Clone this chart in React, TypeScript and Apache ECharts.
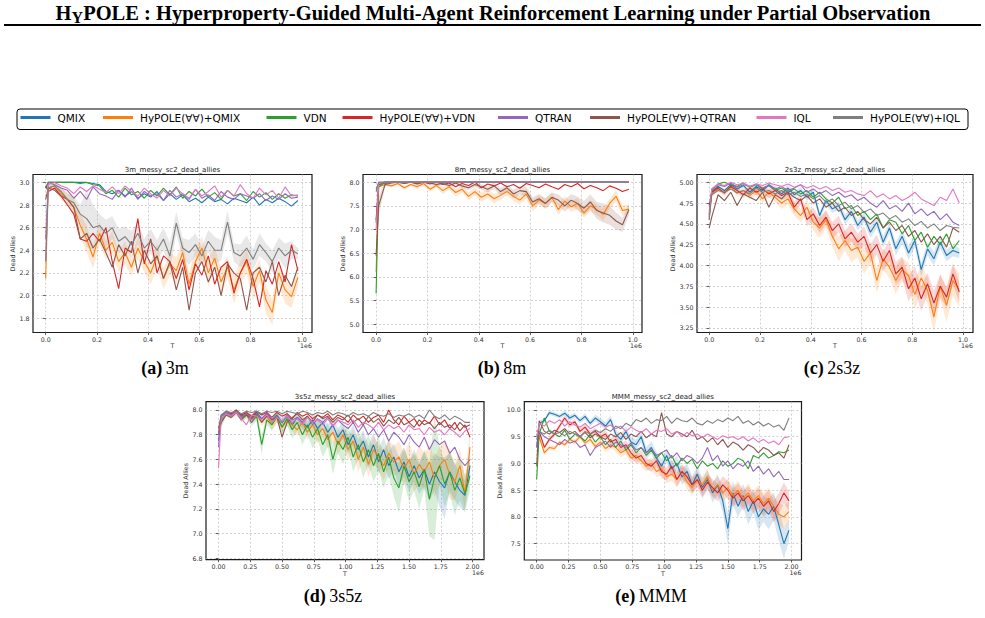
import React, { useEffect, useRef } from "react";
import * as echarts from "echarts";

const FONT = "DejaVu Sans";
const SERIF = "Liberation Serif";

const METHODS = [
  "QMIX",
  "HyPOLE(∀∀)+QMIX",
  "VDN",
  "HyPOLE(∀∀)+VDN",
  "QTRAN",
  "HyPOLE(∀∀)+QTRAN",
  "IQL",
  "HyPOLE(∀∀)+IQL",
];
const COLORS = ["#1f77b4", "#ff7f0e", "#2ca02c", "#d62728", "#9467bd", "#8c564b", "#e377c2", "#7f7f7f"];
const LEGEND_X = [20.5, 103, 266.5, 342.5, 498, 590, 756.5, 833];

// logged environment steps, in units of 1e6
const T_1M = [0, 0.01, 0.035, 0.06, 0.085, 0.11, 0.135, 0.16, 0.185, 0.21, 0.235, 0.26, 0.285, 0.31, 0.335, 0.36, 0.385, 0.41, 0.435, 0.46, 0.485, 0.51, 0.535, 0.56, 0.585, 0.61, 0.635, 0.66, 0.685, 0.71, 0.735, 0.76, 0.785, 0.81, 0.835, 0.86, 0.885, 0.91, 0.935, 0.96, 0.985];
const T_2M = [0, 0.02, 0.06, 0.1, 0.14, 0.18, 0.22, 0.26, 0.3, 0.34, 0.38, 0.42, 0.46, 0.5, 0.54, 0.58, 0.62, 0.66, 0.7, 0.74, 0.78, 0.82, 0.86, 0.9, 0.94, 0.98, 1.02, 1.06, 1.1, 1.14, 1.18, 1.22, 1.26, 1.3, 1.34, 1.38, 1.42, 1.46, 1.5, 1.54, 1.58, 1.62, 1.66, 1.7, 1.74, 1.78, 1.82, 1.86, 1.9, 1.94, 1.98];

const X_TICKS_1M = [0, 0.2, 0.4, 0.6, 0.8, 1.0];
const X_TICKS_2M = [0, 0.25, 0.5, 0.75, 1.0, 1.25, 1.5, 1.75, 2.0];
const Y_TICKS_3M = [1.8, 2.0, 2.2, 2.4, 2.6, 2.8, 3.0];
const Y_TICKS_8M = [5.0, 5.5, 6.0, 6.5, 7.0, 7.5, 8.0];
const Y_TICKS_2S3Z = [3.25, 3.5, 3.75, 4.0, 4.25, 4.5, 4.75, 5.0];
const Y_TICKS_3S5Z = [6.8, 7.0, 7.2, 7.4, 7.6, 7.8, 8.0];
const Y_TICKS_MMM = [7.5, 8.0, 8.5, 9.0, 9.5, 10.0];

// 3m: dead allies (mean over seeds)
const m3Qmix = [2.95, 3.0, 3.0, 3.0, 3.0, 3.0, 3.0, 3.0, 2.99, 2.98, 2.92, 2.9, 2.93, 2.88, 2.92, 2.86, 2.9, 2.87, 2.92, 2.84, 2.9, 2.85, 2.89, 2.83, 2.86, 2.82, 2.87, 2.83, 2.85, 2.81, 2.86, 2.84, 2.82, 2.87, 2.8, 2.85, 2.82, 2.86, 2.83, 2.79, 2.84];
const m3HyQmix = [2.15, 2.95, 2.97, 2.9, 2.85, 2.78, 2.62, 2.5, 2.34, 2.55, 2.4, 2.47, 2.3, 2.38, 2.25, 2.42, 2.3, 2.2, 2.35, 2.15, 2.28, 2.22, 2.38, 2.1, 2.3, 2.42, 2.2, 2.33, 2.12, 2.25, 2.05, 2.2, 2.3, 2.08, 2.22, 1.96, 1.85, 2.2, 2.05, 1.99, 2.16];
const m3Vdn = [2.95, 3.0, 3.0, 3.0, 3.0, 3.0, 2.99, 3.0, 2.98, 2.97, 2.9, 2.93, 2.87, 2.95, 2.89, 2.92, 2.86, 2.93, 2.88, 2.95, 2.89, 2.96, 2.86, 2.92, 2.88, 2.94, 2.87, 2.91, 2.85, 2.93, 2.88, 2.9, 2.84, 2.92, 2.87, 2.91, 2.85, 2.9, 2.86, 2.89, 2.88];
const m3HyVdn = [2.97, 2.92, 2.95, 2.88, 2.8, 2.72, 2.5, 2.48, 2.55, 2.48, 2.6, 2.3, 2.06, 2.42, 2.38, 2.68, 2.28, 2.5, 2.2, 2.35, 2.3, 2.15, 2.32, 2.05, 2.28, 2.18, 2.35, 2.1, 2.25, 2.3, 2.02, 2.2, 2.32, 2.15, 1.9, 2.22, 2.1, 2.3, 2.12, 2.45, 2.22];
const m3Qtran = [2.5, 3.0, 2.98, 2.95, 2.93, 2.86, 2.92, 2.85, 2.96, 2.9, 2.88, 2.85, 2.93, 2.87, 2.95, 2.85, 2.92, 2.88, 2.9, 2.84, 2.93, 2.87, 2.9, 2.85, 2.94, 2.86, 2.89, 2.84, 2.92, 2.87, 2.85, 2.9, 2.88, 2.86, 2.9, 2.84, 2.88, 2.85, 2.9, 2.86, 2.87];
const m3HyQtran = [2.85, 2.95, 2.93, 2.88, 2.85, 2.78, 2.5, 2.55, 2.42, 2.5, 2.38, 2.25, 2.45, 2.35, 2.48, 2.2, 2.4, 2.28, 2.35, 2.15, 2.3, 2.05, 2.25, 1.87, 2.2, 2.3, 2.12, 2.25, 2.0, 2.28, 2.2, 2.15, 1.87, 2.2, 2.25, 2.12, 2.3, 2.0, 2.18, 2.08, 2.25];
const m3Iql = [2.3, 2.98, 3.0, 2.97, 2.95, 2.9, 2.96, 2.92, 2.97, 2.94, 2.91, 2.96, 2.9, 2.97, 2.92, 2.88, 2.95, 2.9, 2.86, 2.93, 2.88, 2.95, 2.9, 2.86, 2.94, 2.88, 2.92, 2.97, 2.87, 2.93, 2.88, 2.98, 2.9, 2.86, 2.95, 2.89, 2.93, 2.86, 2.96, 2.88, 2.89];
const m3HyIql = [2.3, 2.95, 2.97, 2.92, 2.85, 2.82, 2.72, 2.68, 2.6, 2.62, 2.55, 2.6, 2.48, 2.52, 2.45, 2.55, 2.42, 2.48, 2.4, 2.5, 2.35, 2.64, 2.42, 2.38, 2.45, 2.35, 2.48, 2.4, 2.4, 2.65, 2.38, 2.35, 2.42, 2.32, 2.45, 2.38, 2.3, 2.42, 2.35, 2.4, 2.37];
// 3m: half-width of the shaded spread
const m3HyQmixSpread = [0, 0.02, 0.03, 0.05, 0.06, 0.08, 0.1, 0.12, 0.1, 0.1, 0.08, 0.1, 0.09, 0.1, 0.08, 0.1, 0.09, 0.1, 0.11, 0.09, 0.1, 0.12, 0.1, 0.09, 0.11, 0.1, 0.12, 0.1, 0.11, 0.1, 0.12, 0.1, 0.11, 0.12, 0.1, 0.12, 0.11, 0.1, 0.12, 0.1, 0.08];
const m3HyIqlSpread = [0, 0.02, 0.03, 0.04, 0.05, 0.06, 0.08, 0.25, 0.2, 0.1, 0.12, 0.1, 0.11, 0.09, 0.12, 0.1, 0.08, 0.11, 0.09, 0.1, 0.12, 0.1, 0.09, 0.11, 0.1, 0.08, 0.1, 0.12, 0.09, 0.1, 0.08, 0.1, 0.11, 0.09, 0.1, 0.08, 0.1, 0.09, 0.11, 0.08, 0.05];

// 8m: dead allies
const m8Qmix = [7.15, 7.95, 7.97, 8.0, 8.0, 8.0, 8.0, 8.0, 8.0, 8.0, 8.0, 8.0, 8.0, 8.0, 8.0, 8.0, 8.0, 8.0, 8.0, 8.0, 8.0, 8.0, 8.0, 8.0, 8.0, 8.0, 8.0, 8.0, 8.0, 8.0, 8.0, 8.0, 8.0, 8.0, 8.0, 8.0, 8.0, 8.0, 8.0, 8.0, 8.0];
const m8HyQmix = [6.1, 7.9, 7.95, 7.92, 7.97, 7.88, 7.95, 7.9, 7.97, 7.85, 7.93, 7.82, 7.9, 7.78, 7.85, 7.7, 7.8, 7.68, 7.75, 7.65, 7.72, 7.8, 7.7, 7.62, 7.75, 7.5, 7.62, 7.55, 7.68, 7.42, 7.6, 7.48, 7.55, 7.35, 7.5, 7.42, 7.32, 7.55, 7.7, 7.4, 7.43];
const m8Vdn = [5.65, 7.9, 8.0, 8.0, 8.0, 8.0, 8.0, 8.0, 8.0, 8.0, 8.0, 8.0, 8.0, 8.0, 8.0, 8.0, 8.0, 8.0, 8.0, 8.0, 8.0, 8.0, 8.0, 8.0, 8.0, 8.0, 8.0, 8.0, 8.0, 8.0, 8.0, 8.0, 8.0, 8.0, 8.0, 8.0, 8.0, 8.0, 8.0, 8.0, 8.0];
const m8HyVdn = [7.2, 7.95, 8.0, 8.0, 8.0, 7.98, 8.0, 7.97, 8.0, 7.96, 8.0, 7.95, 7.98, 7.9, 7.97, 7.93, 8.0, 7.88, 7.96, 7.92, 7.98, 7.9, 7.95, 7.87, 7.97, 7.93, 7.88, 7.96, 7.9, 7.85, 7.95, 7.9, 7.97, 7.86, 7.93, 7.88, 7.82, 7.92, 7.87, 7.8, 7.85];
const m8Qtran = [7.85, 7.98, 8.0, 8.0, 8.0, 8.0, 8.0, 8.0, 8.0, 8.0, 8.0, 8.0, 8.0, 8.0, 8.0, 8.0, 8.0, 8.0, 8.0, 8.0, 8.0, 8.0, 8.0, 8.0, 8.0, 8.0, 8.0, 8.0, 8.0, 8.0, 8.0, 8.0, 8.0, 8.0, 8.0, 8.0, 8.0, 8.0, 8.0, 8.0, 8.0];
const m8HyQtran = [6.45, 7.5, 7.95, 7.98, 8.0, 7.97, 8.0, 7.96, 8.0, 7.98, 7.95, 7.97, 7.93, 7.98, 7.92, 7.88, 7.95, 7.9, 7.85, 7.92, 7.8, 7.88, 7.75, 7.82, 7.8, 7.58, 7.65, 7.55, 7.68, 7.62, 7.5, 7.62, 7.55, 7.45, 7.58, 7.4, 7.35, 7.3, 7.18, 7.1, 7.42];
const m8Iql = [7.0, 7.97, 8.0, 8.0, 8.0, 8.0, 8.0, 8.0, 8.0, 8.0, 8.0, 8.0, 8.0, 8.0, 8.0, 8.0, 8.0, 8.0, 8.0, 8.0, 8.0, 8.0, 8.0, 8.0, 8.0, 8.0, 8.0, 8.0, 8.0, 8.0, 8.0, 8.0, 8.0, 8.0, 8.0, 8.0, 8.0, 8.0, 8.0, 8.0, 8.0];
const m8HyIql = [7.8, 8.0, 8.0, 8.0, 8.0, 8.0, 8.0, 8.0, 8.0, 8.0, 8.0, 8.0, 8.0, 8.0, 8.0, 8.0, 8.0, 8.0, 8.0, 8.0, 8.0, 8.0, 8.0, 8.0, 8.0, 8.0, 8.0, 8.0, 8.0, 8.0, 8.0, 8.0, 8.0, 8.0, 8.0, 8.0, 8.0, 8.0, 8.0, 8.0, 8.0];
const m8HyQmixSpread = [0, 0.05, 0.03, 0.03, 0.03, 0.04, 0.03, 0.05, 0.04, 0.06, 0.05, 0.07, 0.06, 0.08, 0.07, 0.09, 0.08, 0.1, 0.09, 0.1, 0.09, 0.08, 0.1, 0.09, 0.1, 0.12, 0.1, 0.11, 0.1, 0.12, 0.1, 0.11, 0.12, 0.1, 0.12, 0.11, 0.13, 0.1, 0.12, 0.11, 0.1];
const m8HyQtranSpread = [0, 0.2, 0.05, 0.02, 0.02, 0.02, 0.02, 0.03, 0.02, 0.03, 0.03, 0.03, 0.04, 0.04, 0.05, 0.05, 0.06, 0.06, 0.07, 0.07, 0.08, 0.08, 0.09, 0.09, 0.1, 0.1, 0.1, 0.11, 0.1, 0.12, 0.12, 0.13, 0.14, 0.15, 0.16, 0.18, 0.2, 0.2, 0.18, 0.15, 0.12];

// 2s3z: dead allies
const s23Qmix = [4.6, 4.88, 4.95, 4.9, 4.97, 4.92, 4.96, 4.88, 4.95, 4.9, 4.97, 4.92, 4.86, 4.93, 4.85, 4.9, 4.82, 4.88, 4.6, 4.78, 4.68, 4.72, 4.55, 4.65, 4.48, 4.58, 4.4, 4.52, 4.28, 4.45, 4.2, 4.35, 4.15, 4.3, 3.95, 4.2, 4.08, 4.28, 4.12, 4.18, 4.15];
const s23HyQmix = [4.65, 4.85, 4.92, 4.88, 4.95, 4.87, 4.9, 4.84, 4.9, 4.8, 4.88, 4.82, 4.75, 4.8, 4.68, 4.6, 4.7, 4.52, 4.45, 4.55, 4.35, 4.2, 4.3, 4.18, 4.22, 4.05, 4.15, 3.82, 4.08, 3.98, 3.82, 3.95, 3.88, 3.65, 3.85, 3.7, 3.38, 3.75, 3.52, 3.82, 3.7];
const s23Vdn = [4.62, 4.9, 4.98, 5.0, 4.97, 4.95, 4.99, 4.94, 4.97, 4.92, 4.96, 4.9, 4.93, 4.88, 4.92, 4.86, 4.9, 4.82, 4.88, 4.8, 4.75, 4.82, 4.68, 4.72, 4.6, 4.65, 4.55, 4.62, 4.45, 4.55, 4.52, 4.38, 4.48, 4.3, 4.4, 4.22, 4.35, 4.25, 4.38, 4.2, 4.3];
const s23HyVdn = [4.72, 4.88, 4.93, 4.87, 4.95, 4.9, 4.85, 4.93, 4.88, 4.92, 4.86, 4.9, 4.84, 4.88, 4.7, 4.8, 4.55, 4.62, 4.48, 4.58, 4.42, 4.5, 4.32, 4.4, 4.28, 4.35, 4.15, 4.25, 4.05, 4.18, 3.9, 3.98, 3.72, 3.85, 3.6, 3.78, 3.55, 3.75, 3.62, 3.9, 3.68];
const s23Qtran = [4.55, 4.92, 4.97, 4.95, 4.99, 4.94, 4.97, 4.95, 4.98, 4.93, 4.96, 4.92, 4.95, 4.9, 4.93, 4.97, 4.88, 4.92, 4.86, 4.9, 4.84, 4.88, 4.82, 4.85, 4.78, 4.82, 4.75, 4.7, 4.78, 4.68, 4.72, 4.65, 4.75, 4.62, 4.68, 4.6, 4.65, 4.55, 4.62, 4.52, 4.48];
const s23HyQtran = [4.45, 4.58, 4.85, 4.78, 4.88, 4.72, 4.86, 4.82, 4.78, 4.88, 4.7, 4.85, 4.8, 4.88, 4.82, 4.78, 4.84, 4.75, 4.8, 4.7, 4.75, 4.65, 4.7, 4.6, 4.65, 4.55, 4.5, 4.58, 4.45, 4.52, 4.42, 4.48, 4.35, 4.42, 4.28, 4.38, 4.25, 4.35, 4.22, 4.45, 4.4];
const s23Iql = [4.58, 4.92, 4.98, 4.96, 5.0, 4.97, 4.99, 4.95, 4.98, 4.96, 4.99, 4.97, 4.95, 4.98, 4.94, 4.97, 4.93, 4.96, 4.92, 4.95, 4.9, 4.93, 4.88, 4.9, 4.86, 4.84, 4.9, 4.82, 4.86, 4.8, 4.84, 4.78, 4.82, 4.88, 4.8, 4.76, 4.72, 4.82, 4.78, 4.92, 4.75];
const s23HyIql = [4.55, 4.85, 4.9, 4.88, 4.92, 4.87, 4.9, 4.86, 4.93, 4.88, 4.9, 4.86, 4.9, 4.85, 4.88, 4.83, 4.86, 4.8, 4.84, 4.76, 4.8, 4.72, 4.76, 4.68, 4.72, 4.64, 4.68, 4.6, 4.63, 4.56, 4.6, 4.52, 4.56, 4.48, 4.53, 4.45, 4.5, 4.42, 4.48, 4.46, 4.45];
const s23QmixSpread = [0, 0.02, 0.02, 0.02, 0.02, 0.02, 0.02, 0.03, 0.03, 0.03, 0.03, 0.03, 0.03, 0.04, 0.04, 0.04, 0.04, 0.05, 0.05, 0.05, 0.05, 0.05, 0.06, 0.06, 0.06, 0.06, 0.07, 0.07, 0.07, 0.07, 0.08, 0.08, 0.08, 0.08, 0.09, 0.08, 0.08, 0.08, 0.07, 0.07, 0.06];
const s23HyQmixSpread = [0, 0.03, 0.03, 0.03, 0.03, 0.04, 0.04, 0.05, 0.05, 0.05, 0.06, 0.06, 0.07, 0.07, 0.08, 0.08, 0.09, 0.1, 0.12, 0.1, 0.12, 0.15, 0.12, 0.14, 0.12, 0.15, 0.13, 0.15, 0.12, 0.14, 0.16, 0.14, 0.15, 0.18, 0.15, 0.16, 0.18, 0.15, 0.2, 0.18, 0.2];
const s23HyVdnSpread = [0, 0.03, 0.03, 0.03, 0.03, 0.03, 0.04, 0.04, 0.04, 0.05, 0.05, 0.05, 0.06, 0.06, 0.07, 0.07, 0.08, 0.08, 0.09, 0.09, 0.1, 0.1, 0.1, 0.11, 0.1, 0.12, 0.11, 0.12, 0.12, 0.13, 0.14, 0.13, 0.15, 0.14, 0.15, 0.13, 0.15, 0.14, 0.12, 0.13, 0.12];

// 3s5z: dead allies
const s35Qmix = [7.75, 7.92, 7.98, 7.96, 7.99, 7.95, 7.97, 7.94, 7.98, 7.93, 7.97, 7.92, 7.96, 7.9, 7.95, 7.88, 7.94, 7.9, 7.86, 7.92, 7.85, 7.9, 7.82, 7.88, 7.78, 7.84, 7.72, 7.8, 7.68, 7.75, 7.62, 7.72, 7.58, 7.68, 7.55, 7.62, 7.5, 7.58, 7.46, 7.55, 7.45, 7.52, 7.4, 7.5, 7.42, 7.37, 7.5, 7.42, 7.35, 7.31, 7.55];
const s35HyQmix = [7.82, 7.9, 7.97, 7.95, 7.98, 7.93, 7.97, 7.92, 7.96, 7.9, 7.95, 7.88, 7.94, 7.86, 7.92, 7.88, 7.84, 7.9, 7.82, 7.88, 7.8, 7.85, 7.76, 7.82, 7.72, 7.8, 7.68, 7.75, 7.6, 7.7, 7.56, 7.68, 7.62, 7.55, 7.65, 7.58, 7.62, 7.52, 7.6, 7.48, 7.56, 7.5, 7.58, 7.45, 7.55, 7.6, 7.48, 7.42, 7.55, 7.33, 7.7];
const s35Vdn = [7.8, 7.9, 7.97, 7.95, 7.98, 7.93, 7.96, 7.9, 7.95, 7.72, 7.92, 7.88, 7.95, 7.86, 7.93, 7.84, 7.9, 7.8, 7.88, 7.78, 7.85, 7.72, 7.8, 7.6, 7.75, 7.68, 7.78, 7.62, 7.72, 7.58, 7.68, 7.55, 7.65, 7.5, 7.62, 7.45, 7.37, 7.55, 7.42, 7.5, 7.38, 7.52, 7.28, 7.45, 7.55, 7.4, 7.5, 7.35, 7.45, 7.32, 7.47];
const s35HyVdn = [7.85, 7.95, 7.99, 7.97, 8.0, 7.96, 7.98, 7.95, 7.99, 7.96, 7.98, 7.94, 7.98, 7.95, 7.97, 7.93, 7.98, 7.95, 7.97, 7.93, 7.96, 7.94, 7.97, 7.92, 7.96, 7.94, 7.9, 7.96, 7.92, 7.95, 7.9, 7.94, 7.96, 7.9, 8.0, 7.92, 7.88, 7.95, 7.9, 7.93, 7.87, 7.92, 7.89, 7.95, 7.88, 7.92, 7.85, 7.9, 7.83, 7.88, 7.78];
const s35Qtran = [7.7, 7.95, 7.98, 7.96, 7.99, 7.94, 7.97, 7.9, 7.96, 7.93, 7.97, 7.92, 7.95, 7.9, 7.96, 7.92, 7.94, 7.9, 7.95, 7.88, 7.93, 7.9, 7.94, 7.87, 7.92, 7.88, 7.85, 7.9, 7.82, 7.88, 7.8, 7.85, 7.78, 7.84, 7.75, 7.82, 7.78, 7.72, 7.8, 7.74, 7.7, 7.78, 7.68, 7.76, 7.72, 7.75, 7.65, 7.7, 7.6, 7.55, 7.6];
const s35HyQtran = [7.8, 7.9, 7.96, 7.94, 7.98, 7.92, 7.96, 7.93, 7.97, 7.9, 7.95, 7.92, 7.94, 7.78, 7.9, 7.94, 7.97, 7.92, 7.95, 7.9, 7.96, 7.93, 7.95, 7.9, 7.94, 7.92, 7.96, 7.9, 7.93, 7.88, 7.95, 7.9, 7.93, 7.87, 7.92, 7.89, 7.94, 7.88, 7.9, 7.86, 7.92, 7.88, 7.9, 7.85, 7.9, 7.86, 7.88, 7.84, 7.9, 7.86, 7.88];
const s35Iql = [7.53, 7.92, 7.97, 7.95, 7.98, 7.93, 7.88, 7.96, 7.95, 7.92, 7.96, 7.9, 7.94, 7.91, 7.95, 7.9, 7.93, 7.88, 7.94, 7.9, 7.92, 7.88, 7.93, 7.87, 7.92, 7.9, 7.88, 7.92, 7.86, 7.9, 7.88, 7.85, 7.9, 7.84, 7.88, 7.85, 7.87, 7.82, 7.88, 7.84, 7.85, 7.8, 7.86, 7.82, 7.84, 7.8, 7.85, 7.82, 7.78, 7.83, 7.85];
const s35HyIql = [7.8, 7.96, 7.99, 7.98, 7.99, 7.97, 7.99, 7.98, 7.99, 7.97, 7.99, 7.98, 7.99, 7.97, 7.99, 7.98, 7.97, 7.99, 7.98, 7.96, 7.98, 7.97, 7.99, 7.96, 7.98, 7.97, 7.95, 7.98, 7.96, 7.97, 7.95, 7.98, 7.96, 7.95, 7.97, 7.94, 7.96, 7.95, 7.97, 7.94, 7.96, 7.93, 8.0, 7.95, 7.93, 7.96, 7.92, 7.95, 7.93, 7.9, 7.9];
const s35QmixSpread = [0, 0.03, 0.02, 0.02, 0.02, 0.02, 0.02, 0.02, 0.03, 0.03, 0.03, 0.03, 0.03, 0.04, 0.04, 0.04, 0.05, 0.05, 0.05, 0.05, 0.06, 0.06, 0.06, 0.07, 0.07, 0.07, 0.08, 0.08, 0.08, 0.09, 0.09, 0.1, 0.1, 0.1, 0.11, 0.11, 0.12, 0.12, 0.12, 0.13, 0.13, 0.14, 0.14, 0.15, 0.2, 0.25, 0.15, 0.15, 0.14, 0.12, 0.1];
const s35HyQmixSpread = [0, 0.03, 0.02, 0.02, 0.02, 0.02, 0.03, 0.03, 0.03, 0.03, 0.04, 0.04, 0.04, 0.04, 0.05, 0.05, 0.05, 0.06, 0.06, 0.06, 0.07, 0.07, 0.07, 0.08, 0.08, 0.08, 0.09, 0.09, 0.1, 0.1, 0.1, 0.11, 0.11, 0.12, 0.12, 0.12, 0.13, 0.13, 0.14, 0.14, 0.15, 0.15, 0.14, 0.16, 0.15, 0.16, 0.2, 0.15, 0.14, 0.13, 0.12];
const s35VdnSpread = [0, 0.05, 0.02, 0.02, 0.02, 0.03, 0.03, 0.03, 0.04, 0.08, 0.04, 0.05, 0.05, 0.06, 0.06, 0.07, 0.07, 0.08, 0.08, 0.09, 0.09, 0.1, 0.1, 0.12, 0.1, 0.12, 0.1, 0.12, 0.12, 0.13, 0.12, 0.13, 0.14, 0.13, 0.15, 0.15, 0.2, 0.14, 0.16, 0.15, 0.18, 0.16, 0.3, 0.5, 0.16, 0.18, 0.17, 0.2, 0.18, 0.15, 0.12];

// MMM: dead allies
const mmmQmix = [9.3, 9.75, 9.8, 9.95, 9.92, 9.88, 9.94, 9.85, 9.9, 9.8, 9.88, 9.75, 9.85, 9.78, 9.7, 9.82, 9.55, 9.45, 9.6, 9.4, 9.35, 9.5, 9.2, 9.3, 9.1, 8.95, 9.15, 8.9, 9.0, 8.75, 8.85, 8.6, 8.8, 8.55, 8.7, 8.45, 8.6, 8.3, 7.78, 8.45, 8.2, 8.4, 8.1, 8.3, 8.0, 8.15, 8.05, 8.2, 7.85, 7.5, 7.75];
const mmmHyQmix = [9.55, 9.5, 9.2, 9.3, 9.28, 9.4, 9.35, 9.45, 9.4, 9.5, 9.38, 9.45, 9.32, 9.4, 9.28, 9.35, 9.3, 9.2, 9.25, 9.1, 9.15, 9.05, 8.95, 9.0, 8.85, 8.9, 8.75, 8.8, 8.7, 8.85, 8.65, 8.55, 8.7, 8.6, 8.75, 8.5, 8.6, 8.45, 8.55, 8.4, 8.5, 8.35, 8.45, 8.3, 8.4, 8.25, 8.35, 8.2, 8.05, 8.0, 8.1];
const mmmVdn = [8.7, 9.55, 9.85, 9.6, 9.55, 9.5, 9.62, 9.45, 9.55, 9.5, 9.42, 9.55, 9.4, 9.5, 9.35, 9.45, 9.3, 9.42, 9.25, 9.35, 9.2, 9.3, 9.15, 9.25, 9.1, 9.2, 9.05, 9.15, 8.95, 9.1, 9.0, 9.08, 8.9, 9.05, 8.95, 9.0, 8.9, 9.05, 8.95, 9.0, 9.1, 9.05, 8.9, 9.15, 9.1, 9.2, 9.1, 9.15, 9.22, 9.2, 9.25];
const mmmHyVdn = [9.6, 9.6, 9.3, 9.45, 9.55, 9.7, 9.85, 9.72, 9.78, 9.6, 9.68, 9.55, 9.6, 9.5, 9.55, 9.4, 9.45, 9.3, 9.35, 9.2, 9.1, 9.15, 9.0, 8.95, 9.05, 8.85, 8.8, 8.95, 8.7, 8.85, 8.75, 8.6, 8.7, 8.5, 8.65, 8.55, 8.45, 8.6, 8.5, 8.35, 8.45, 8.3, 8.4, 8.25, 8.35, 8.2, 8.3, 8.1, 8.25, 8.45, 8.3];
const mmmQtran = [9.3, 9.6, 9.5, 9.45, 9.4, 9.35, 9.45, 9.38, 9.42, 9.3, 9.35, 9.15, 9.3, 9.35, 9.42, 9.3, 9.4, 9.35, 9.3, 9.38, 9.25, 9.3, 9.2, 9.28, 9.15, 9.2, 9.25, 9.1, 9.2, 9.05, 9.15, 9.1, 9.0, 9.1, 9.3, 9.05, 9.15, 8.95, 9.05, 8.9, 9.0, 8.95, 9.05, 8.85, 8.95, 8.8, 8.9, 8.75, 8.85, 8.7, 8.7];
const mmmHyQtran = [8.95, 9.8, 9.6, 9.55, 9.62, 9.58, 9.65, 9.55, 9.6, 9.5, 9.58, 9.48, 9.55, 9.5, 9.45, 9.55, 9.5, 9.58, 9.45, 9.55, 9.5, 9.6, 9.48, 9.55, 9.5, 9.95, 9.55, 9.5, 9.6, 9.55, 9.5, 9.62, 9.45, 9.5, 9.4, 9.48, 9.35, 9.45, 9.3, 9.4, 9.35, 9.25, 9.35, 9.3, 9.2, 9.3, 9.25, 9.15, 9.2, 9.1, 9.35];
const mmmIql = [9.5, 9.75, 9.7, 9.8, 9.75, 9.82, 9.7, 9.78, 9.72, 9.68, 9.75, 9.65, 9.7, 9.75, 9.68, 9.72, 9.65, 9.7, 9.6, 9.68, 9.62, 9.58, 9.65, 9.55, 9.62, 9.6, 9.65, 9.55, 9.6, 9.5, 9.58, 9.52, 9.55, 9.48, 9.55, 9.5, 9.45, 9.52, 9.48, 9.5, 9.45, 9.5, 9.42, 9.48, 9.4, 9.45, 9.38, 9.42, 9.35, 9.48, 9.5];
const mmmHyIql = [9.45, 9.6, 9.55, 9.62, 9.55, 9.58, 9.52, 9.6, 9.55, 9.5, 9.6, 9.55, 9.62, 9.58, 9.65, 9.6, 9.7, 9.65, 9.75, 9.7, 9.82, 9.78, 9.85, 9.75, 9.82, 9.8, 9.88, 9.75, 9.85, 9.8, 9.78, 9.85, 9.75, 9.72, 9.8, 9.75, 9.82, 9.78, 9.85, 9.8, 9.88, 9.75, 9.8, 9.72, 9.78, 9.7, 9.75, 9.68, 9.72, 9.62, 9.85];
const mmmQmixSpread = [0, 0.05, 0.04, 0.04, 0.04, 0.04, 0.05, 0.05, 0.05, 0.05, 0.06, 0.06, 0.06, 0.07, 0.07, 0.08, 0.08, 0.09, 0.09, 0.1, 0.1, 0.11, 0.11, 0.12, 0.12, 0.13, 0.13, 0.14, 0.14, 0.15, 0.15, 0.16, 0.16, 0.17, 0.17, 0.18, 0.2, 0.22, 0.3, 0.22, 0.2, 0.22, 0.24, 0.22, 0.25, 0.24, 0.28, 0.26, 0.3, 0.28, 0.2];
const mmmHyQmixSpread = [0, 0.04, 0.05, 0.04, 0.04, 0.04, 0.04, 0.05, 0.05, 0.05, 0.05, 0.06, 0.06, 0.06, 0.07, 0.07, 0.08, 0.08, 0.08, 0.09, 0.09, 0.1, 0.1, 0.1, 0.11, 0.12, 0.12, 0.13, 0.14, 0.13, 0.14, 0.15, 0.14, 0.15, 0.16, 0.15, 0.16, 0.17, 0.16, 0.17, 0.18, 0.17, 0.18, 0.18, 0.19, 0.2, 0.19, 0.2, 0.2, 0.22, 0.18];
const mmmHyVdnSpread = [0, 0.05, 0.05, 0.05, 0.05, 0.05, 0.05, 0.05, 0.05, 0.06, 0.06, 0.06, 0.07, 0.07, 0.07, 0.08, 0.08, 0.08, 0.09, 0.09, 0.1, 0.1, 0.1, 0.11, 0.11, 0.12, 0.12, 0.12, 0.13, 0.13, 0.14, 0.14, 0.15, 0.15, 0.15, 0.16, 0.16, 0.16, 0.17, 0.17, 0.18, 0.18, 0.18, 0.19, 0.19, 0.2, 0.2, 0.2, 0.2, 0.2, 0.18];

type Panel = {
  title: string;
  tag: string;
  label: string;
  t: number[];
  values: number[][];
  bands: [number, number[]][];
  box: [number, number, number, number];
  xRange: [number, number];
  yRange: [number, number];
  xTicks: number[];
  yTicks: number[];
  xDigits: number;
  yDigits: number;
  yNameGap: number;
  caption: [number, number];
};

const PANELS: Panel[] = [
  {
    title: "3m_messy_sc2_dead_allies", tag: "(a)", label: "3m", t: T_1M,
    values: [m3Qmix, m3HyQmix, m3Vdn, m3HyVdn, m3Qtran, m3HyQtran, m3Iql, m3HyIql],
    bands: [[1, m3HyQmixSpread], [7, m3HyIqlSpread]],
    box: [33, 174.5, 279, 158], xRange: [-0.0495, 1.04], yRange: [1.673, 3.07],
    xTicks: X_TICKS_1M, yTicks: Y_TICKS_3M, xDigits: 1, yDigits: 1, yNameGap: 14, caption: [165, 368],
  },
  {
    title: "8m_messy_sc2_dead_allies", tag: "(b)", label: "8m", t: T_1M,
    values: [m8Qmix, m8HyQmix, m8Vdn, m8HyVdn, m8Qtran, m8HyQtran, m8Iql, m8HyIql],
    bands: [[1, m8HyQmixSpread], [5, m8HyQtranSpread]],
    box: [363, 174.5, 279, 158], xRange: [-0.051, 1.036], yRange: [4.83, 8.16],
    xTicks: X_TICKS_1M, yTicks: Y_TICKS_8M, xDigits: 1, yDigits: 1, yNameGap: 14, caption: [502, 368],
  },
  {
    title: "2s3z_messy_sc2_dead_allies", tag: "(c)", label: "2s3z", t: T_1M,
    values: [s23Qmix, s23HyQmix, s23Vdn, s23HyVdn, s23Qtran, s23HyQtran, s23Iql, s23HyIql],
    bands: [[0, s23QmixSpread], [1, s23HyQmixSpread], [3, s23HyVdnSpread]],
    box: [697, 174.5, 276, 158], xRange: [-0.048, 1.039], yRange: [3.195, 5.093],
    xTicks: X_TICKS_1M, yTicks: Y_TICKS_2S3Z, xDigits: 1, yDigits: 2, yNameGap: 17, caption: [832, 368],
  },
  {
    title: "3s5z_messy_sc2_dead_allies", tag: "(d)", label: "3s5z", t: T_2M,
    values: [s35Qmix, s35HyQmix, s35Vdn, s35HyVdn, s35Qtran, s35HyQtran, s35Iql, s35HyIql],
    bands: [[0, s35QmixSpread], [1, s35HyQmixSpread], [2, s35VdnSpread]],
    box: [206, 401.7, 278, 158], xRange: [-0.0985, 2.09], yRange: [6.79, 8.067],
    xTicks: X_TICKS_2M, yTicks: Y_TICKS_3S5Z, xDigits: 2, yDigits: 1, yNameGap: 15, caption: [333, 596],
  },
  {
    title: "MMM_messy_sc2_dead_allies", tag: "(e)", label: "MMM", t: T_2M,
    values: [mmmQmix, mmmHyQmix, mmmVdn, mmmHyVdn, mmmQtran, mmmHyQtran, mmmIql, mmmHyIql],
    bands: [[0, mmmQmixSpread], [1, mmmHyQmixSpread], [3, mmmHyVdnSpread]],
    box: [524.3, 401.7, 277.2, 158.3], xRange: [-0.097, 2.078], yRange: [7.195, 10.155],
    xTicks: X_TICKS_2M, yTicks: Y_TICKS_MMM, xDigits: 2, yDigits: 1, yNameGap: 17, caption: [651, 596],
  },
];

const TICK_TEXT = { fontSize: 6.3, color: "#333", fontFamily: FONT };

function withAlpha(hex: string, a: number) {
  const n = parseInt(hex.slice(1), 16);
  return `rgba(${(n >> 16) & 255},${(n >> 8) & 255},${n & 255},${a})`;
}

function buildOption() {
  const grid = PANELS.map((p) => ({
    left: p.box[0], top: p.box[1], width: p.box[2], height: p.box[3],
    show: true, borderColor: "#1c1c1c", borderWidth: 1.2, backgroundColor: "rgba(0,0,0,0)",
  }));

  const xAxis = PANELS.map((p, i) => ({
    type: "value", gridIndex: i, min: p.xRange[0], max: p.xRange[1],
    name: "T", nameLocation: "middle", nameGap: 10, nameTextStyle: TICK_TEXT,
    axisLine: { show: false },
    axisTick: { show: true, inside: false, length: 2.5, lineStyle: { color: "#333", width: 0.8 }, customValues: p.xTicks },
    axisLabel: { show: true, customValues: p.xTicks, margin: 3.5, formatter: (v: number) => v.toFixed(p.xDigits), ...TICK_TEXT },
    splitLine: { show: true, lineStyle: { color: "#bdbdbd", width: 0.7, type: [2, 2] } },
  }));

  const yAxis = PANELS.map((p, i) => ({
    type: "value", gridIndex: i, min: p.yRange[0], max: p.yRange[1],
    name: "Dead Allies", nameLocation: "middle", nameGap: p.yNameGap, nameRotate: 90, nameTextStyle: TICK_TEXT,
    axisLine: { show: false },
    axisTick: { show: true, inside: false, length: 2.5, lineStyle: { color: "#333", width: 0.8 }, customValues: p.yTicks },
    axisLabel: { show: true, customValues: p.yTicks, margin: 3.5, formatter: (v: number) => v.toFixed(p.yDigits), ...TICK_TEXT },
    splitLine: { show: true, lineStyle: { color: "#bdbdbd", width: 0.7, type: [2, 2] } },
  }));

  const series: any[] = [];
  PANELS.forEach((p, i) => {
    // shaded spread around a mean curve, projected through the panel's axes
    p.bands.forEach(([j, spread]) => {
      const vals = p.values[j];
      const fill = withAlpha(COLORS[j], 0.18);
      series.push({
        type: "custom", xAxisIndex: i, yAxisIndex: i, silent: true, z: 1, clip: true,
        data: [[p.t[0], vals[0]]],
        renderItem: (_params: any, api: any) => {
          const upper = vals.map((v, k) => api.coord([p.t[k], v + spread[k]]));
          const lower = vals.map((v, k) => api.coord([p.t[k], v - spread[k]])).reverse();
          return { type: "polygon", silent: true, shape: { points: upper.concat(lower) }, style: { fill } };
        },
      });
    });
    p.values.forEach((vals, j) => {
      series.push({
        type: "line", name: METHODS[j], xAxisIndex: i, yAxisIndex: i,
        data: vals.map((v, k) => [p.t[k], v]),
        showSymbol: false, symbol: "none", silent: true, clip: true, z: 2,
        lineStyle: { width: 1.1, color: COLORS[j] },
        itemStyle: { color: COLORS[j] },
      });
    });
  });

  const legend = METHODS.map((name, i) => ({
    data: [name], left: LEGEND_X[i], top: 112, icon: "rect", itemWidth: 30, itemHeight: 3,
    padding: 0, selectedMode: false,
    textStyle: { fontFamily: FONT, fontSize: 10.5, color: "#000", padding: [0, 0, 0, 2] },
  }));

  const graphic: any[] = [
    {
      type: "text", x: 493, y: 13, silent: true,
      style: {
        text: "{a|H}{b|Y}{a|POLE : Hyperproperty-Guided Multi-Agent Reinforcement Learning under Partial Observation}",
        align: "center", verticalAlign: "middle", fill: "#000",
        rich: {
          a: { fontSize: 20.5, lineHeight: 25, fontWeight: "bold", fontFamily: SERIF, fill: "#000" },
          b: { fontSize: 16, lineHeight: 22, verticalAlign: "bottom", fontWeight: "bold", fontFamily: SERIF, fill: "#000" },
        },
      },
    },
    { type: "rect", silent: true, shape: { x: 4, y: 24, width: 977, height: 2 }, style: { fill: "#000" } },
    { type: "rect", silent: true, shape: { x: 17, y: 109, width: 951, height: 20.5, r: 3 }, style: { fill: "none", stroke: "#000", lineWidth: 1 } },
  ];

  PANELS.forEach((p) => {
    const [l, t, w, h] = p.box;
    graphic.push({
      type: "text", x: l + w / 2, y: t - 5, silent: true,
      style: { text: p.title, align: "center", verticalAlign: "middle", fontSize: 7, fontFamily: FONT, fill: "#222" },
    });
    graphic.push({
      type: "text", x: l + w, y: t + h + 12.5, silent: true,
      style: { text: "1e6", align: "right", verticalAlign: "middle", ...TICK_TEXT, fill: "#333" },
    });
    graphic.push({
      type: "text", x: p.caption[0], y: p.caption[1], silent: true,
      style: {
        text: `{b|${p.tag}} {r|${p.label}}`, align: "center", verticalAlign: "middle",
        rich: {
          b: { fontSize: 18, fontWeight: "bold", fontFamily: SERIF, fill: "#000" },
          r: { fontSize: 18, fontFamily: SERIF, fill: "#000" },
        },
      },
    });
  });

  return {
    animation: false,
    backgroundColor: "#fff",
    textStyle: { fontFamily: FONT },
    grid, xAxis, yAxis, series, legend, graphic,
  };
}

export default function App() {
  const ref = useRef<HTMLDivElement>(null);
  useEffect(() => {
    if (!ref.current) return;
    const chart = echarts.init(ref.current, undefined, { renderer: "svg" });
    chart.setOption(buildOption() as any);
    return () => chart.dispose();
  }, []);
  return <div ref={ref} style={{ position: "absolute", left: 0, top: 0, width: 985, height: 618 }} />;
}
